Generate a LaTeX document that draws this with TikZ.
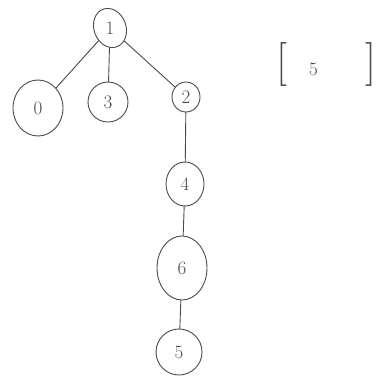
\documentclass[tikz,border=0pt]{standalone}
\usetikzlibrary{shapes.geometric}
\definecolor{pencil}{HTML}{4A4A4A}
\tikzset{
  vert/.style={ellipse, draw=pencil, line width=0.9pt, text=pencil, inner sep=0pt,
    font=\fontsize{19}{19}\selectfont},
  edge/.style={draw=pencil, line width=0.9pt, line cap=round}
}
\begin{document}
\begin{tikzpicture}[x=1pt, y=-1pt]
  \useasboundingbox[fill=white] (0,0) rectangle (378,378);
  % tree vertices
  \node[vert, minimum width=32pt, minimum height=40pt, rotate=20] (n1) at (110,28) {\rotatebox{-20}{1}};
  \node[vert, minimum width=50pt, minimum height=56pt] (n0) at (38,108) {0};
  \node[vert, minimum width=40pt, minimum height=40pt] (n3) at (108,102) {3};
  \node[vert, minimum width=28pt, minimum height=30pt] (n2) at (186,97) {2};
  \node[vert, minimum width=38pt, minimum height=44pt] (n4) at (185,184) {4};
  \node[vert, minimum width=50pt, minimum height=64pt] (n6) at (182,268) {6};
  \node[vert, minimum width=46pt, minimum height=46pt] (n5) at (179,352) {5};
  % tree edges
  \draw[edge] (n1) -- (n0);
  \draw[edge] (n1) -- (n3);
  \draw[edge] (n1) -- (n2);
  \draw[edge] (n2) -- (n4);
  \draw[edge] (n4) -- (n6);
  \draw[edge] (n6) -- (n5);
  % bracketed list
  \node[text=pencil, anchor=west, inner sep=0pt] (lst) at (276,64)
    {{\fontsize{44}{44}\selectfont[}\hspace{22pt}{\fontsize{19}{19}\selectfont 5}\hspace{48pt}{\fontsize{44}{44}\selectfont]}};
\end{tikzpicture}
\end{document}
